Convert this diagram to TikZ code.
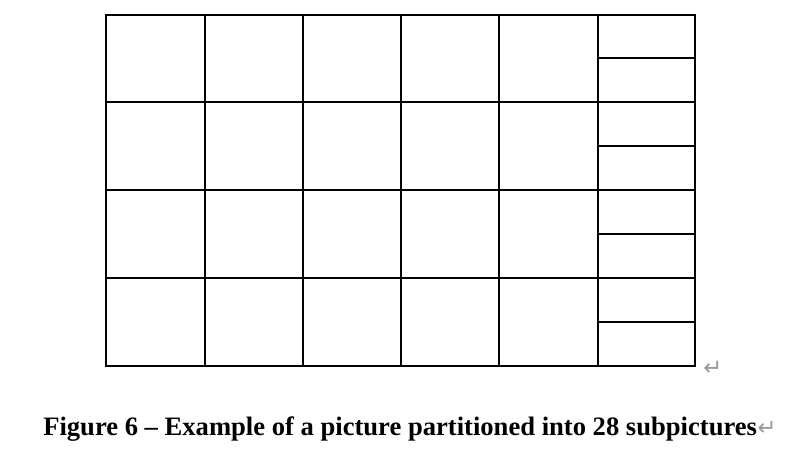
\documentclass[tikz,border=0pt]{standalone}
\usepackage{fontspec}
\setmainfont{Liberation Serif}
\newfontfamily\symfont{DejaVu Sans}
\begin{document}
\begin{tikzpicture}[x=0.75pt,y=-0.75pt,
  gridline/.style={line width=1.5pt,line cap=rect},
  retmark/.style={text=gray!80,inner sep=0pt}]
\useasboundingbox (0,0) rectangle (805,458);
% main grid
\foreach \x in {106,205,303,401,499,598,695}
  \draw[gridline] (\x,15) -- (\x,366);
\foreach \y in {15,102,190,278,366}
  \draw[gridline] (106,\y) -- (695,\y);
\foreach \y in {58,146,234,322}
  \draw[gridline] (598,\y) -- (695,\y);
\node[retmark,anchor=base west,font=\symfont\fontsize{17}{19}\selectfont] (ret1) at (703,375) {↵};
\node[anchor=base west,inner sep=0pt,font=\bfseries\fontsize{19.95}{23}\selectfont] (cap) at (43,435)
  {Figure 6 – Example of a picture partitioned into 28 subpictures};
\node[retmark,anchor=base west,font=\symfont\fontsize{17}{19}\selectfont] (ret2) at (cap.base east) {↵};
\end{tikzpicture}
\end{document}
